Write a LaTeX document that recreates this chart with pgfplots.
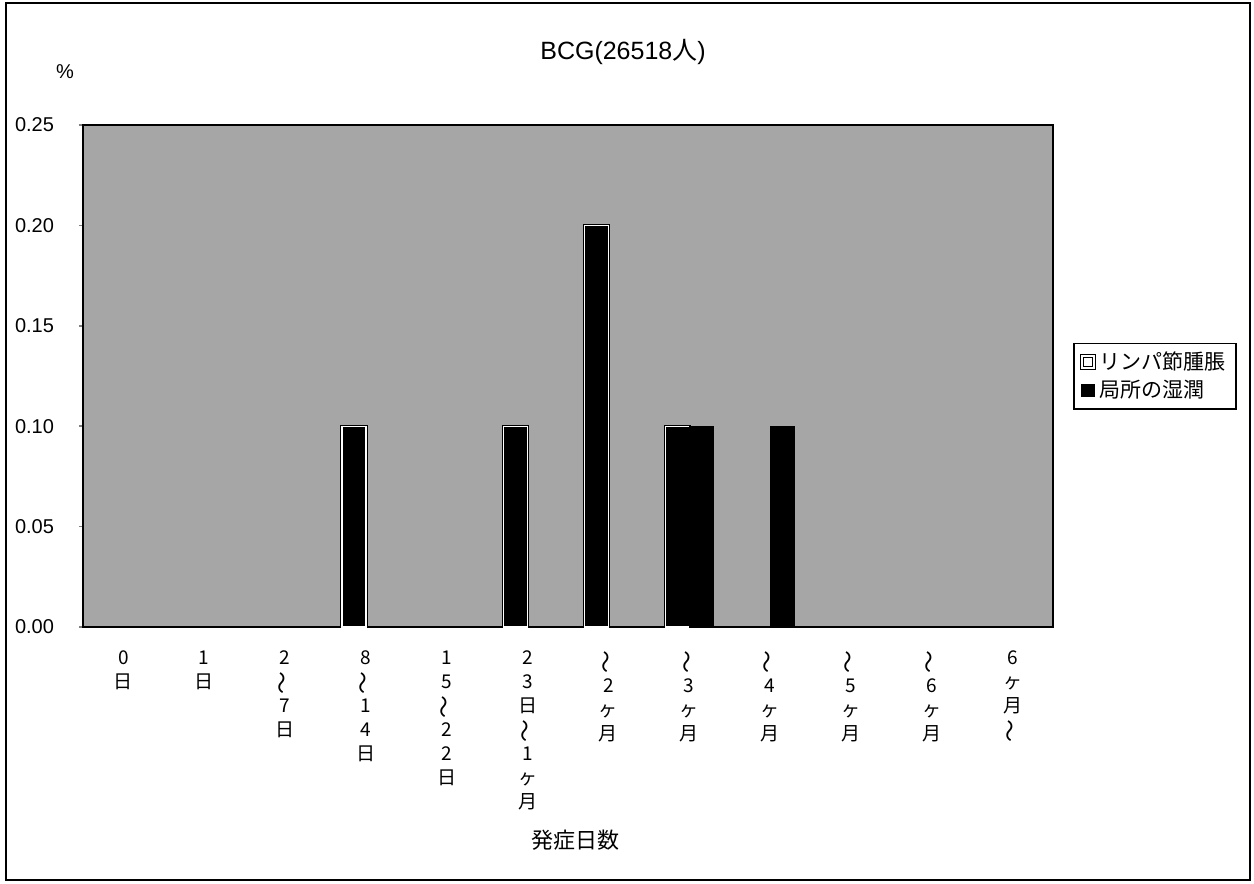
\documentclass[border=0pt]{standalone}
\usepackage{pgfplots}
\pgfplotsset{compat=1.18}
\usepackage{fontspec}
\setmainfont{Liberation Sans}
\newfontfamily\cjk{Noto Sans CJK JP}
\newcommand\wave{\rotatebox[origin=c]{90}{\scalebox{1.2}{\cjk 〜}}}

\begin{document}
\begin{tikzpicture}
\useasboundingbox (-41.5pt,-128.5pt) rectangle (585.5pt,313.5pt);
\draw[line width=0.8pt] (-38.5pt,-126.5pt) rectangle (583.5pt,312pt);
\begin{axis}[
    at={(0pt,0pt)}, anchor=south west,
    width=485pt, height=251pt, scale only axis,
    ybar=0pt, bar width=12pt,
    xmin=-0.5, xmax=11.5, ymin=0, ymax=0.25,
    axis background/.style={fill=black!35},
    axis line style={line width=1pt},
    xtick={0,...,11},
    xtick style={draw=none},
    xticklabels={{0\\日},{1\\日},{2\\\wave\\7\\日},{8\\\wave\\1\\4\\日},
      {1\\5\\\wave\\2\\2\\日},{2\\3\\日\\\wave\\1\\ヶ\\月},{\wave\\2\\ヶ\\月},
      {\wave\\3\\ヶ\\月},{\wave\\4\\ヶ\\月},{\wave\\5\\ヶ\\月},{\wave\\6\\ヶ\\月},
      {6\\ヶ\\月\\\wave}},
    xticklabel style={font=\cjk\fontsize{9.5}{12}\selectfont, align=center,
      anchor=north, yshift=-6.5pt},
    ytick={0,0.05,0.10,0.15,0.20,0.25},
    ytick pos=left,
    tick align=outside, major tick length=2pt,
    ytick style={line width=0.8pt},
    yticklabel style={font=\fontsize{10}{12}\selectfont, xshift=-9pt,
      /pgf/number format/.cd, fixed, fixed zerofill, precision=2,
      assume math mode=true},
    legend style={at={(1.0206,0.566)}, anchor=north west, draw=black,
      line width=0.8pt, font=\cjk\fontsize{10.5}{12}\selectfont,
      inner xsep=3pt, inner ysep=2pt, row sep=0pt},
    legend cell align=left,
  ]
  % リンパ節腫脹
  \addplot[fill=black, draw=black, double=white, double distance=0.7pt, line width=0.5pt,
    legend image code/.code={\draw[black, fill=white, line width=0.7pt] (0pt,-3pt) rectangle (6pt,3pt);}]
    coordinates {(3,0.10) (5,0.10) (6,0.20) (7,0.10)};
  \addlegendentry{リンパ節腫脹}
  % 局所の湿潤
  \addplot[fill=black, draw=black,
    legend image code/.code={\draw[black, fill=black] (0pt,-3pt) rectangle (6pt,3pt);}]
    coordinates {(7,0.10) (8,0.10)};
  \addlegendentry{局所の湿潤}
\end{axis}
\node[font=\fontsize{12.5}{14}\selectfont] at (270pt,287.5pt) {BCG(26518{\cjk 人})};
\node[font=\fontsize{10}{12}\selectfont] at (-9pt,277.5pt) {\%};
\node[font=\cjk\fontsize{11}{13}\selectfont] at (246pt,-106.5pt) {発症日数};
\end{tikzpicture}
\end{document}
